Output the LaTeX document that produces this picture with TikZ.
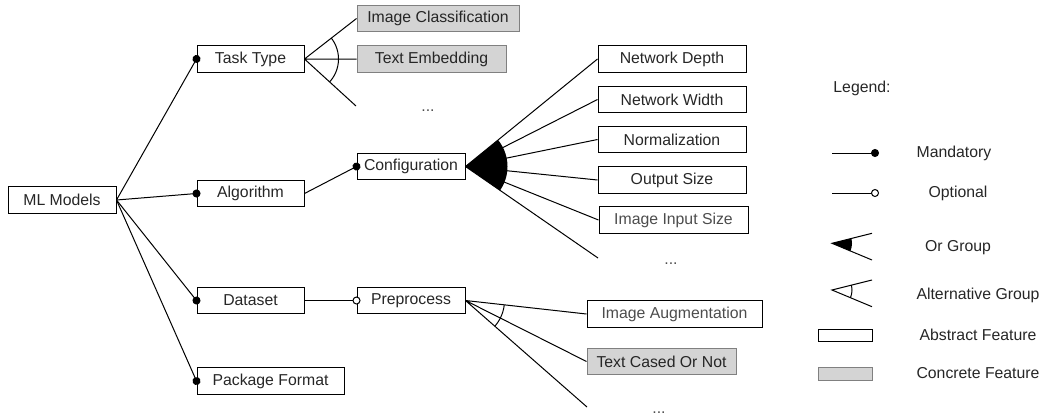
\documentclass[tikz,border=0pt]{standalone}
\usepackage{fontspec}
\setmainfont{Liberation Sans}
\usetikzlibrary{arrows.meta}

\begin{document}
\begin{tikzpicture}[x=1pt,y=-1pt,line width=1pt,
    font=\fontsize{15.8}{19}\selectfont,text=black!85,
    feat/.style={draw,minimum height=26.5pt,inner sep=0pt},
    concfeat/.style={feat,draw=black!50,fill=black!17},
    mand/.style={-{Circle[length=8pt]},shorten >=-4pt},
    opt/.style={-{Circle[open,length=8pt,fill=white]},shorten >=-4pt}]
    \useasboundingbox (0,0) rectangle (1042,416);

    % features
    \node[feat,minimum width=108pt] (ml) at (62,200) {ML Models};
    \node[feat,minimum width=107pt] (tt) at (250.5,59) {Task Type};
    \node[feat,minimum width=107pt] (alg) at (250.5,193.5) {Algorithm};
    \node[feat,minimum width=107pt] (ds) at (250.5,300.5) {Dataset};
    \node[feat,minimum width=147pt] (pf) at (270.5,381) {Package Format};
    \node[feat,minimum width=108pt] (cfg) at (411,166.5) {Configuration};
    \node[feat,minimum width=108pt] (pre) at (411,300.5) {Preprocess};
    \node[concfeat,minimum width=162pt] (ic) at (438,18.5) {Image Classification};
    \node[concfeat,minimum width=149pt] (te) at (431.5,59) {Text Embedding};
    \node[feat,minimum width=148pt] (nd) at (672,59) {Network Depth};
    \node[feat,minimum width=148pt] (nw) at (672,99.5) {Network Width};
    \node[feat,minimum width=148pt] (nz) at (672,139.5) {Normalization};
    \node[feat,minimum width=148pt] (os) at (672,180) {Output Size};
    \node[feat,minimum width=149pt,text=black!70] (iis) at (673.5,220) {Image Input Size};
    \node[feat,minimum width=175pt,text=black!70] (ia) at (674.5,314) {Image Augmentation};
    \node[concfeat,minimum width=149pt] (tc) at (661.5,361.5) {Text Cased Or Not};

    \node[anchor=base,text=black!70] (tt-dots) at (428,111) {...};
    \node[anchor=base,text=black!70] (cfg-dots) at (671,264) {...};
    \node[anchor=base,text=black!70] (pre-dots) at (659,413) {...};
    \coordinate (tt-more) at (356,106);
    \coordinate (cfg-more) at (598,258);
    \coordinate (pre-more) at (587,407);

    % groups
    \begin{scope}
        \clip (tt.east) -- (ic.west) -- (tt-more) -- cycle;
        \draw (tt.east) circle (34pt);
    \end{scope}
    \begin{scope}
        \clip (cfg.east) -- (nd.west) -- (cfg-more) -- cycle;
        \fill (cfg.east) circle (42pt);
    \end{scope}
    \begin{scope}
        \clip (pre.east) -- (ia.west) -- (pre-more) -- cycle;
        \draw (pre.east) circle (39pt);
    \end{scope}

    \draw (tt.east) -- (ic.west)
          (tt.east) -- (te.west)
          (tt.east) -- (tt-more);
    \foreach \f in {nd,nw,nz,os,iis}
        \draw (cfg.east) -- (\f.west);
    \draw (cfg.east) -- (cfg-more);
    \draw (pre.east) -- (ia.west)
          (pre.east) -- (tc.west)
          (pre.east) -- (pre-more);

    \foreach \f in {tt,alg,ds,pf}
        \draw[mand] (ml.east) -- (\f.west);
    \draw[mand] (alg.east) -- (cfg.west);
    \draw[opt] (ds.east) -- (pre.west);

    % legend
    \node (leg) at (862,88) {Legend:};
    \coordinate (lm-a) at (832,153);
    \coordinate (lm-b) at (875,153);
    \coordinate (lo-a) at (832,193);
    \coordinate (lo-b) at (875,193);
    \draw[mand] (lm-a) -- (lm-b);
    \draw[opt] (lo-a) -- (lo-b);
    \node (lm) at (954,153) {Mandatory};
    \node (lo) at (958,193) {Optional};

    \coordinate (lor) at (832,243.3);
    \coordinate (lor-t) at (872,233.3);
    \coordinate (lor-b) at (872,260);
    \begin{scope}
        \clip (lor) -- (lor-t) -- (lor-b) -- cycle;
        \fill (lor) circle (20pt);
    \end{scope}
    \draw (lor-t) -- (lor) -- (lor-b);
    \node (lorg) at (958,248) {Or Group};

    \coordinate (lalt) at (832,290);
    \coordinate (lalt-t) at (872,280);
    \coordinate (lalt-b) at (872,306.7);
    \begin{scope}
        \clip (lalt) -- (lalt-t) -- (lalt-b) -- cycle;
        \draw (lalt) circle (20pt);
    \end{scope}
    \draw (lalt-t) -- (lalt) -- (lalt-b);
    \node (laltg) at (978,295) {Alternative Group};

    \node[draw,line width=0.8pt,minimum width=54pt,minimum height=12pt,inner sep=0pt] (labs) at (845,335) {};
    \node (labsf) at (978,335) {Abstract Feature};
    \node[draw=black!50,line width=0.8pt,fill=black!17,minimum width=54pt,minimum height=13pt,inner sep=0pt] (lcon) at (845,374) {};
    \node (lconf) at (978,373) {Concrete Feature};
\end{tikzpicture}
\end{document}
